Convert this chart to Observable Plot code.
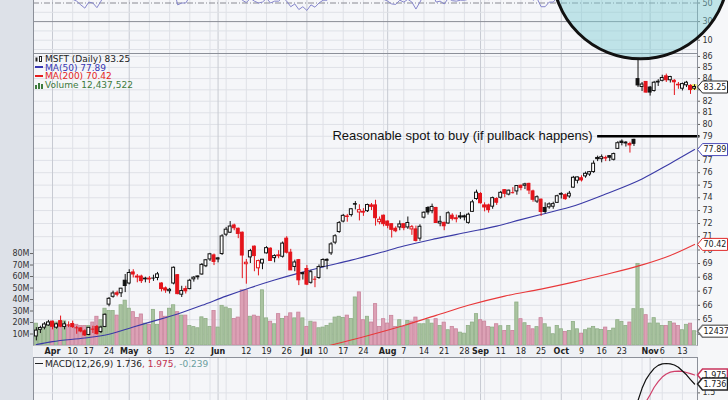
<!DOCTYPE html>
<html><head><meta charset="utf-8">
<script src="https://cdn.jsdelivr.net/npm/d3@7"></script>
<script src="https://cdn.jsdelivr.net/npm/@observablehq/plot@0.6"></script>
<style>
html,body{margin:0;padding:0;background:#fff;}
#wrap{position:relative;width:728px;height:400px;overflow:hidden;background:#f6f7f9;font-family:'DejaVu Sans',Verdana,sans-serif;}
#wrap svg{position:absolute;left:0;top:0;overflow:visible;}
.strip{position:absolute;left:0;top:0;width:33px;height:400px;background:#dde1e8;}
.leg{position:absolute;font-family:'DejaVu Sans',Verdana,sans-serif;font-size:9px;line-height:8.7px;white-space:nowrap;}
.leg div{height:8.7px;}
.leg i{display:inline-block;width:8px;height:1.5px;margin:0 2px 2px 0;vertical-align:middle;}
</style></head><body>
<div id="wrap"><div class="strip"></div></div>
<script>
// ---------------- data ----------------
const dates = ["03-28","03-29","03-30","03-31",
"04-03","04-04","04-05","04-06","04-07","04-10","04-11","04-12","04-13","04-17","04-18","04-19","04-20","04-21","04-24","04-25","04-26","04-27","04-28",
"05-01","05-02","05-03","05-04","05-05","05-08","05-09","05-10","05-11","05-12","05-15","05-16","05-17","05-18","05-19","05-22","05-23","05-24","05-25","05-26","05-30","05-31",
"06-01","06-02","06-05","06-06","06-07","06-08","06-09","06-12","06-13","06-14","06-15","06-16","06-19","06-20","06-21","06-22","06-23","06-26","06-27","06-28","06-29","06-30",
"07-03","07-05","07-06","07-07","07-10","07-11","07-12","07-13","07-14","07-17","07-18","07-19","07-20","07-21","07-24","07-25","07-26","07-27","07-28","07-31",
"08-01","08-02","08-03","08-04","08-07","08-08","08-09","08-10","08-11","08-14","08-15","08-16","08-17","08-18","08-21","08-22","08-23","08-24","08-25","08-28","08-29","08-30","08-31",
"09-01","09-05","09-06","09-07","09-08","09-11","09-12","09-13","09-14","09-15","09-18","09-19","09-20","09-21","09-22","09-25","09-26","09-27","09-28","09-29",
"10-02","10-03","10-04","10-05","10-06","10-09","10-10","10-11","10-12","10-13","10-16","10-17","10-18","10-19","10-20","10-23","10-24","10-25","10-26","10-27","10-30","10-31",
"11-01","11-02","11-03","11-06","11-07","11-08","11-09","11-10","11-13","11-14","11-15","11-16"];

const opens = [63.85,64.30,64.45,64.60,
64.85,64.45,64.90,64.50,64.65,64.70,64.45,64.40,64.20,63.95,64.35,64.50,64.15,64.50,66.05,66.60,66.85,66.85,67.75,
67.55,68.35,68.05,68.05,67.85,67.90,67.90,67.95,67.55,67.20,67.00,67.55,68.15,66.75,67.15,67.15,67.85,68.00,68.20,68.80,69.30,69.60,
69.30,69.70,71.15,71.30,71.85,71.60,71.30,68.95,69.45,70.25,68.65,69.00,69.75,70.10,69.40,69.60,69.50,70.85,69.80,68.75,69.25,68.30,
68.60,67.60,67.85,67.95,68.75,69.20,69.75,70.55,71.35,72.15,72.50,72.65,73.50,72.85,72.90,72.95,73.40,73.40,72.10,72.60,
72.15,71.95,71.60,71.70,71.95,71.70,71.55,71.55,70.85,72.45,73.20,72.95,73.20,72.00,72.05,72.00,72.60,72.40,72.55,72.55,72.05,72.90,73.90,
74.30,73.40,73.40,73.30,73.90,74.00,74.60,74.25,74.40,74.50,74.95,74.95,75.10,74.50,73.70,73.85,73.20,73.25,73.30,73.60,
74.30,74.20,74.10,74.80,75.35,75.55,75.70,75.85,76.05,77.20,77.10,77.15,77.35,77.05,77.95,78.55,78.40,78.35,78.70,83.95,83.25,83.70,
83.20,82.90,83.65,83.80,84.20,83.85,83.80,83.40,83.10,83.40,83.35,83.10];

const highs = [64.45,64.55,64.80,64.95,
64.90,64.75,65.25,64.85,64.85,64.90,64.55,64.45,64.30,64.45,64.55,64.60,64.55,65.40,66.55,67.00,67.00,67.20,68.20,
68.55,68.55,68.20,68.15,68.00,68.05,68.15,68.35,67.60,67.30,67.20,68.75,68.20,67.35,67.35,67.85,68.05,68.10,69.00,69.30,69.75,69.70,
69.45,71.15,71.70,72.15,71.95,71.65,71.35,69.30,70.05,70.30,69.25,69.30,70.25,70.15,69.65,69.95,70.60,71.00,70.05,69.25,69.30,68.35,
68.85,68.50,68.05,68.90,69.35,69.35,70.55,71.15,72.15,72.70,72.70,73.15,73.70,73.45,73.15,73.50,73.55,73.80,72.50,72.65,
72.20,71.95,71.75,72.20,71.95,72.50,71.85,71.80,71.90,72.90,73.30,73.50,73.25,72.55,72.10,72.90,72.75,72.65,72.85,72.65,72.80,73.80,74.60,
74.40,73.60,73.50,74.05,74.00,74.50,74.65,74.60,74.80,74.95,75.00,75.15,75.15,74.60,74.15,73.90,73.60,73.60,73.65,74.20,
74.40,74.30,74.50,75.70,75.65,75.75,76.05,76.10,76.95,77.35,77.45,77.35,77.40,77.60,78.55,78.70,78.55,78.50,78.75,85.80,83.65,83.70,
83.30,83.75,83.90,84.30,84.40,84.20,83.90,83.65,83.60,83.75,83.45,83.45];

const lows = [63.55,64.05,64.30,64.55,
64.30,64.35,64.45,64.30,64.45,64.40,64.00,64.10,63.85,63.90,64.05,63.95,64.05,64.45,65.90,66.50,66.60,66.55,66.90,
67.45,67.95,67.60,67.55,67.60,67.55,67.70,67.75,66.95,66.85,66.80,67.45,66.75,66.55,66.80,67.10,67.65,67.80,68.15,68.70,69.15,68.85,
69.05,69.60,71.00,71.25,71.45,70.85,67.90,67.50,69.00,68.40,68.10,68.55,69.70,69.15,69.05,69.35,69.40,69.70,68.50,68.40,67.40,67.80,
67.40,67.50,67.25,67.85,68.70,68.55,69.60,70.40,71.25,72.05,72.10,72.50,73.05,72.20,72.55,72.85,73.00,71.80,71.90,71.75,
71.60,70.90,71.30,71.45,71.45,71.55,71.10,70.60,70.65,72.35,72.65,72.75,72.00,71.75,71.45,71.95,72.20,72.05,72.30,72.20,71.95,72.85,73.80,
73.50,72.90,72.80,73.10,73.40,73.90,74.00,74.15,74.30,74.20,74.55,74.65,74.25,73.65,73.55,72.55,72.75,73.10,73.10,73.55,
73.90,73.80,73.95,74.75,75.10,75.25,75.55,75.70,75.95,76.90,76.80,76.90,76.90,76.95,77.90,78.20,78.10,77.60,78.15,83.20,82.85,82.70,
82.45,82.80,83.30,83.70,83.65,83.60,82.50,83.05,82.90,83.20,82.60,82.95];

const closes = [64.25,64.43,64.67,64.81,
64.51,64.68,64.52,64.68,64.64,64.49,64.44,64.19,63.92,64.44,64.35,64.01,64.46,65.34,66.46,66.84,66.75,67.18,67.37,
68.31,68.20,67.98,67.72,67.90,67.84,67.94,68.21,67.15,67.05,67.10,68.69,66.79,67.01,66.99,67.75,67.97,68.06,68.90,69.24,69.68,69.12,
69.38,71.02,71.53,71.77,71.64,71.21,69.59,69.06,69.92,69.55,69.18,69.28,70.14,69.19,69.55,69.54,70.48,69.80,68.50,69.08,67.78,68.22,
67.47,68.37,67.86,68.74,69.26,69.27,70.42,71.03,72.03,72.59,72.54,73.10,73.46,73.03,72.84,73.43,73.29,72.41,72.29,71.95,
71.83,71.52,71.41,71.93,71.65,72.04,71.72,70.68,71.75,72.83,72.85,73.28,72.04,72.13,71.79,72.79,72.36,72.33,72.46,72.47,72.68,73.64,74.40,
73.57,73.24,73.03,73.97,73.61,74.39,74.31,74.56,74.40,74.93,74.78,75.06,74.57,73.84,74.04,72.89,72.89,73.48,73.50,74.12,
74.24,73.89,74.32,75.59,75.62,75.38,75.91,76.04,76.73,77.10,77.26,77.20,77.22,77.52,78.42,78.44,78.47,78.24,78.37,83.39,83.47,82.76,
82.76,83.63,83.72,84.05,83.85,84.14,83.67,83.45,83.51,83.63,82.98,83.25];

// volume, millions of shares
const volumes = [19,14,17,20,
21,20,19,21,17,16,18,17,17,17,20,25,22,32,30,30,26,35,39,
32,29,24,27,19,18,31,18,29,25,32,35,29,26,26,17,16,15,24.5,23,16.2,30,
15.6,34.5,33,31.6,23,24.3,48,48,25,26,25,48,23.6,20.7,18.5,27.3,23,25,28,23.6,28.6,23.6,
16.2,20.7,20,15,15.6,17,19,24.3,25,24,26,23,41.8,46.2,22,25,20,36,16.2,22.9,
19.1,25.8,16.2,22,16.2,21.4,20.8,24.3,18.5,18.5,22,19,22.9,17,19.9,13.3,16.2,14.1,11.2,10.3,17,20,27.3,
22,20.8,16,15.6,18.5,16.8,12.7,17,12.7,37.4,22.9,19.4,17,14.1,16,23.8,18.5,15.6,9.8,17,
14.1,11.8,12.7,20.5,14.1,10.3,13.3,14.7,16.2,14.1,13.5,15.6,12.7,14.7,22,20.5,17,20,31.6,71,31.6,26.4,
19.1,23.8,19.1,17,17,20.5,19.1,17,13.3,18,19,12.437522];

// RSI(14) (only the part below ~52 is visible)
const rsiValues = [55,56,58,60,
56,58,55,57,56,54,52,48,44.5,51,50,45,52,60,68,70,69,71,72,
75,73,70,67,68,67,68,69,60,58,59,66,48,50,50,57,59,60,65,67,69,63,
65,73,75,76,74,68,53,50.5,55,52,50,51,55,50,52,52,56,52,46,49,43,46,
42,48,45.5,50,53,53,59,63,67,70,69,72,73,68,66,69,67,58,57,54,
52,49,48.5,53,51,54,51,43.5,51,59,59,61,51,52,49,55,52.5,52,53,53,54,61,66,
58,55,53.5,60,57,62,61,63,61,65,63,65,60,53,55,46,46,51,51,56,
57,54,57,66,66,63,67,68,72,74,75,74,74,75,80,80,80,77,77,88,88,82,
82,84,84,85,83,84,80,78,78,79,70,72];

const ma50Dates  = ["03-28","04-03","04-13","04-24","05-02","05-09","05-17","05-25","06-05","06-13","06-21","06-29","07-10","07-19","07-28","08-07","08-17","08-29","09-08","09-18","09-25","10-04","10-17","10-30","11-08","11-16"];
const ma50Values = [63.3,63.5,63.75,64.0,64.5,64.9,65.4,66.0,66.65,67.25,67.8,68.3,68.75,69.25,69.8,70.3,70.85,71.35,71.8,72.3,72.7,73.25,74.3,75.5,76.75,77.89];
const ma200Dates  = ["07-11","07-25","08-07","08-17","08-29","09-12","09-25","10-05","10-17","10-30","11-08","11-16"];
const ma200Values = [63.2,63.9,64.6,65.3,66.0,66.65,67.15,67.65,68.2,68.9,69.6,70.42];

const macdDates   = ["10-20","10-23","10-24","10-25","10-26","10-27","10-30","10-31","11-01","11-02","11-03","11-06","11-07","11-08","11-09","11-10","11-13","11-14","11-15","11-16"];
const macdValues  = [0.95,0.98,1.00,0.99,1.02,1.30,1.62,1.86,2.02,2.15,2.23,2.27,2.28,2.27,2.24,2.18,2.08,1.98,1.85,1.736];
const signalValues= [0.80,0.83,0.86,0.88,0.90,0.98,1.10,1.27,1.45,1.65,1.80,1.92,2.00,2.05,2.07,2.08,2.07,2.04,2.01,1.975];

const priceTicks  = [64,65,66,67,68,69,70,71,72,73,74,75,76,77,78,79,80,81,82,83,84,85,86];
const volumeTicks = [10,20,30,40,50,60,70,80];
const rsiTicks    = [10,30,50];
const macdGrid    = [1.5,2];
const macdTicks   = [1.5];
const dateTickDates  = ["04-03","04-10","04-17","04-24","05-01","05-08","05-15","05-22","06-01","06-12","06-19","06-26","07-03","07-10","07-17","07-24","08-01","08-07","08-14","08-21","08-28","09-01","09-11","09-18","09-25","10-02","10-09","10-16","10-23","11-01","11-06","11-13"];
const dateTickLabels = ["Apr","10","17","24","May","8","15","22","Jun","12","19","26","Jul","10","17","24","Aug","7","14","21","28","Sep","11","18","25","Oct","9","16","23","Nov","6","13"];

const noteText = "Reasonable spot to buy (if pullback happens)";
const noteDate = "10-13", notePrice = 79;

// ---------------- build ----------------
const K = new Map(dates.map((d, k) => [d, k]));
const dObj = dates.map(s => new Date(2017, +s.slice(0, 2) - 1, +s.slice(3)));
const weekK = [], monthK = [];
for (let k = 1; k < dates.length; k++) {
  if (dObj[k].getMonth() !== dObj[k - 1].getMonth()) monthK.push(k);
  else if (dObj[k].getDay() <= dObj[k - 1].getDay()) weekK.push(k);
}
const bars = dates.map((d, k) => {
  const up = k === 0 ? closes[k] >= opens[k] : closes[k] >= closes[k - 1];
  return {k, o: opens[k], h: highs[k], l: lows[k], c: closes[k], v: volumes[k],
    col: up ? "#111111" : "#e4141b", hollow: closes[k] >= opens[k], up};
});
const bodies = bars.filter(b => Math.abs(b.o - b.c) >= 0.04);
const dojis = bars.filter(b => Math.abs(b.o - b.c) < 0.04);
const last = bars[bars.length - 1];

const FONT = "'DejaVu Sans', Verdana, sans-serif";
const PANEL = "#f5f6f9", GRID = "#dfe1e7", GRID_M = "#c7cad2", BORDER = "#8c9099";
const XD = [-0.706, 163.73];
const base = () => ({width: 728, height: 400, marginLeft: 33, marginRight: 31,
  x: {domain: XD, axis: null}, color: {type: "identity"},
  style: {background: "transparent", overflow: "visible", fontFamily: FONT, fontSize: "8px", color: "#333"}});

// right-hand labels as text marks (labels hidden under a value tag are skipped), plus short ticks
const rightLabels = (ticks, hidden = []) => [
  Plot.ruleY(ticks, {x1: XD[1], x2: XD[1] + 0.75, stroke: "#666"}),
  Plot.text(ticks.filter(t => !hidden.includes(t)), {y: d => d, text: d => String(d), frameAnchor: "right", textAnchor: "start", dx: 5, fontSize: 8, fill: "#333"})
];

const tagShape = w => ({draw(ctx) { ctx.moveTo(0, 0); ctx.lineTo(5, -6); ctx.lineTo(w, -6); ctx.lineTo(w, 6); ctx.lineTo(5, 6); ctx.closePath(); }});
const wrap = document.getElementById("wrap");
const add = p => { wrap.appendChild(p); };

// RSI panel (top, mostly cut off)
const rsiData = dates.map((d, k) => ({k, v: rsiValues[k]}));
add(Plot.plot({...base(), marginTop: 0, marginBottom: 347,
  y: {domain: [-4.3, 52.7], axis: null},
  marks: [
    Plot.frame({fill: PANEL}),
    Plot.ruleX(weekK, {stroke: GRID}),
    Plot.ruleX(monthK, {stroke: GRID_M}),
    Plot.ruleY([40, 20, 10, 0], {stroke: GRID}),
    Plot.ruleY([50], {stroke: "#8a8a92", strokeDasharray: "6,2,1,2"}),
    Plot.ruleY([30], {stroke: "#8a8d95"}),
    Plot.line(rsiData, {x: "k", y: "v", stroke: "#8686cc", strokeWidth: 1, clip: true}),
    ...rightLabels(rsiTicks),
    Plot.ruleY([-4.3], {stroke: BORDER}),
    Plot.ruleX(XD, {stroke: BORDER})
  ]}));

// main panel background + grid (price scale)
const priceY = {type: "log", domain: [63.24, 86.27], axis: null};
add(Plot.plot({...base(), marginTop: 53, marginBottom: 55, y: priceY,
  marks: [
    Plot.frame({fill: PANEL}),
    Plot.ruleY(priceTicks, {stroke: GRID}),
    Plot.ruleX(weekK, {stroke: GRID}),
    Plot.ruleX(monthK, {stroke: GRID_M})
  ]}));

// volume overlay
add(Plot.plot({...base(), marginTop: 53, marginBottom: 55, y: {domain: [0, 254], axis: null},
  marks: [
    Plot.rect(bars, {x1: d => d.k - 0.4, x2: d => d.k + 0.4, y1: 0, y2: "v",
      fill: d => d.up ? "#a9c3a0" : "#dca1b5", stroke: d => d.up ? "#8fae86" : "#c9849c", strokeWidth: 0.8}),
    Plot.ruleY(volumeTicks, {x1: XD[0] - 0.75, x2: XD[0], stroke: "#666"}),
    Plot.text(volumeTicks, {y: d => d, text: d => d + "M", frameAnchor: "left", textAnchor: "end", dx: -4, fontSize: 8, fill: "#333"})
  ]}));

// price overlay
const ma50 = ma50Dates.map((d, j) => ({k: K.get(d), v: ma50Values[j]}));
const ma200 = ma200Dates.map((d, j) => ({k: K.get(d), v: ma200Values[j]}));
const priceTags = [
  {v: 83.25, label: "83.25", stroke: "#222"},
  {v: 77.89, label: "77.89", stroke: "#4a4ab8"},
  {v: 70.42, label: "70.42", stroke: "#e02828"}
];
const underTags = priceTicks.filter(t => priceTags.some(g => Math.abs(g.v - t) < 0.3));
add(Plot.plot({...base(), marginTop: 53, marginBottom: 55, y: priceY,
  marks: [
    Plot.line(ma200, {x: "k", y: "v", stroke: "#e8383a", strokeWidth: 1.1, curve: "monotone-x", clip: true}),
    Plot.line(ma50, {x: "k", y: "v", stroke: "#3a3aa6", strokeWidth: 1.1, curve: "monotone-x", clip: true}),
    Plot.rect([last], {x1: d => d.k - 0.6, x2: d => d.k + 0.6, y1: "l", y2: "h", fill: "#f5f25a"}),
    Plot.ruleX(bars, {x: "k", y1: "l", y2: "h", stroke: "col", strokeWidth: 1}),
    Plot.rect(bodies, {x1: d => d.k - 0.36, x2: d => d.k + 0.36, y1: "o", y2: "c",
      fill: d => d.hollow ? "#ffffff" : d.col, stroke: "col", strokeWidth: 1}),
    Plot.ruleY(dojis, {y: "c", x1: d => d.k - 0.45, x2: d => d.k + 0.45, stroke: "col", strokeWidth: 1}),
    Plot.ruleY([{p: notePrice, k: K.get(noteDate)}], {y: "p", x1: "k", x2: XD[1] + 0.6, stroke: "#000", strokeWidth: 2.5}),
    Plot.text([{p: notePrice, k: K.get(noteDate)}], {x: "k", y: "p", text: () => noteText, textAnchor: "end", dx: -5,
      fontSize: 13, fontFamily: "'Liberation Sans', Arial, sans-serif", fill: "#111"}),
    ...rightLabels(priceTicks, underTags),
    Plot.frame({stroke: BORDER}),
    Plot.dot(priceTags, {y: "v", frameAnchor: "right", symbol: tagShape(30), r: 5, fill: "#fff", stroke: "stroke", strokeWidth: 1}),
    Plot.text(priceTags, {y: "v", frameAnchor: "right", text: "label", textAnchor: "start", dx: 6, fontSize: 8, fill: "#222"}),
    Plot.dot([{k: 149.6, p: 94.2}], {x: "k", y: "p", r: 88, fill: "#7fcbd3", fillOpacity: 0.45, stroke: "#111", strokeWidth: 3})
  ]}));

// volume tag (on volume scale)
add(Plot.plot({...base(), marginTop: 53, marginBottom: 55, y: {domain: [0, 254], axis: null},
  marks: [
    Plot.dot([{v: last.v, label: "12437522"}], {y: "v", frameAnchor: "right", symbol: tagShape(45), r: 5, fill: "#fff", stroke: "#777"}),
    Plot.text([{v: last.v, label: "12437522"}], {y: "v", frameAnchor: "right", text: "label", textAnchor: "start", dx: 6, fontSize: 8, fill: "#222"})
  ]}));

// date strip
const dateTicks = dateTickDates.map((d, j) => ({k: K.get(d), t: dateTickLabels[j], bold: isNaN(+dateTickLabels[j])}));
add(Plot.plot({...base(), marginTop: 345, marginBottom: 43, y: {domain: [0, 1], axis: null},
  marks: [
    Plot.frame({fill: "#eef0f4"}),
    Plot.text(dateTicks.filter(d => d.bold), {x: "k", text: "t", frameAnchor: "middle", fontWeight: "bold", fontSize: 8, fill: "#222"}),
    Plot.text(dateTicks.filter(d => !d.bold), {x: "k", text: "t", frameAnchor: "middle", fontSize: 8, fill: "#222"})
  ]}));

// MACD panel
const macd = macdDates.map((d, j) => ({k: K.get(d), m: macdValues[j], s: signalValues[j]}));
const macdTags = [{v: 1.975, label: "1.975", stroke: "#c8345c"}, {v: 1.736, label: "1.736", stroke: "#222"}];
add(Plot.plot({...base(), marginTop: 357, marginBottom: 0, y: {domain: [1.298, 2.439], axis: null},
  marks: [
    Plot.frame({fill: PANEL}),
    Plot.ruleX(weekK, {stroke: GRID}),
    Plot.ruleX(monthK, {stroke: GRID_M}),
    Plot.ruleY(macdGrid, {stroke: GRID}),
    Plot.line(macd, {x: "k", y: "s", stroke: "#d0406a", strokeWidth: 1.2, clip: true}),
    Plot.line(macd, {x: "k", y: "m", stroke: "#111", strokeWidth: 1.2, clip: true}),
    ...rightLabels(macdTicks),
    Plot.ruleY([2.439], {stroke: BORDER}),
    Plot.ruleX(XD, {stroke: BORDER}),
    Plot.dot(macdTags, {y: "v", frameAnchor: "right", symbol: tagShape(30), r: 5, fill: "#fff", stroke: "stroke"}),
    Plot.text(macdTags, {y: "v", frameAnchor: "right", text: "label", textAnchor: "start", dx: 6, fontSize: 8, fill: "#222"})
  ]}));

// legends
const leg = document.createElement("div");
leg.className = "leg"; leg.style.left = "35px"; leg.style.top = "55px";
leg.innerHTML =
  `<div style="color:#222"><svg width="8" height="7" style="position:static;vertical-align:-1px;margin-right:2px"><rect x="0.5" y="1.5" width="2" height="4" fill="#222"/><rect x="4.5" y="0.5" width="2" height="5" fill="#fff" stroke="#222"/></svg>MSFT (Daily) ${closes[closes.length-1].toFixed(2)}</div>` +
  `<div style="color:#3535b2"><i style="background:#3535b2"></i>MA(50) ${ma50Values[ma50Values.length-1].toFixed(2)}</div>` +
  `<div style="color:#e41e1e"><i style="background:#e41e1e"></i>MA(200) ${ma200Values[ma200Values.length-1].toFixed(2)}</div>` +
  `<div style="color:#3d7a3d"><svg width="8" height="7" style="position:static;vertical-align:-1px;margin-right:2px"><rect x="0" y="3" width="2" height="4" fill="#3d7a3d"/><rect x="3" y="1" width="2" height="6" fill="#3d7a3d"/><rect x="6" y="2" width="2" height="5" fill="#3d7a3d"/></svg>Volume 12,437,522</div>`;
wrap.appendChild(leg);

const leg2 = document.createElement("div");
leg2.className = "leg"; leg2.style.left = "35px"; leg2.style.top = "360px";
leg2.innerHTML = `<span style="color:#222"><i style="background:#222"></i>MACD(12,26,9) 1.736</span><span style="color:#c0304f">, 1.975</span><span style="color:#6a9e9e">, -0.239</span>`;
wrap.appendChild(leg2);
</script>
</body></html>
